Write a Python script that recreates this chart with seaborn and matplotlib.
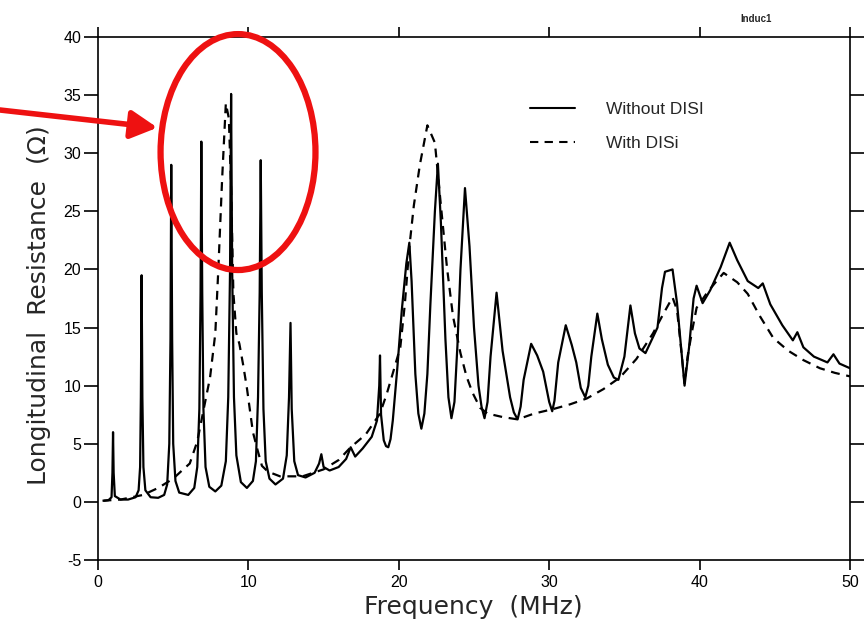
import matplotlib
matplotlib.use("Agg")
import matplotlib.pyplot as plt
import numpy as np
import pandas as pd
import seaborn as sns
from matplotlib.patches import Ellipse
from matplotlib.lines import Line2D

# ---------------- data ----------------
freq_without = [0.4, 0.7, 0.9, 0.96, 1.0, 1.04, 1.12, 1.5, 2.0, 2.5, 2.7, 2.8, 2.85, 2.9, 2.95, 3.02, 3.15,
                3.5, 4.0, 4.4, 4.6, 4.74, 4.82, 4.87, 4.93, 5.0, 5.15, 5.4, 6.0, 6.4, 6.6, 6.74, 6.82, 6.87,
                6.93, 7.01, 7.15, 7.4, 7.8, 8.2, 8.5, 8.66, 8.78, 8.85, 8.92, 9.04, 9.2, 9.5, 9.9, 10.3, 10.5,
                10.64, 10.75, 10.82, 10.89, 11.0, 11.15, 11.4, 11.8, 12.3, 12.55, 12.7, 12.8, 12.88, 13.05,
                13.3, 13.8, 14.4, 14.7, 14.85, 15.0, 15.4, 16.0, 16.5, 16.8, 17.1, 17.6, 18.2, 18.55, 18.7,
                18.75, 18.82, 19.0, 19.15, 19.3, 19.45, 19.6, 19.9, 20.2, 20.5, 20.7, 20.85, 21.1, 21.3, 21.5,
                21.7, 21.9, 22.1, 22.4, 22.6, 22.8, 23.1, 23.3, 23.5, 23.7, 23.9, 24.1, 24.4, 24.7, 25.0, 25.3,
                25.5, 25.7, 25.9, 26.1, 26.5, 26.9, 27.4, 27.65, 27.9, 28.1, 28.3, 28.8, 29.2, 29.6, 30.0,
                30.2, 30.35, 30.6, 31.1, 31.5, 31.8, 32.1, 32.4, 32.6, 32.8, 33.2, 33.5, 33.9, 34.3, 34.6,
                35.0, 35.4, 35.7, 36.0, 36.4, 36.8, 37.2, 37.5, 37.7, 38.2, 38.5, 38.8, 39.0, 39.3, 39.6,
                39.8, 40.2, 40.7, 41.4, 42.0, 42.5, 43.2, 43.9, 44.2, 44.7, 45.5, 46.2, 46.5, 46.9, 47.6,
                48.5, 48.9, 49.3, 50.0]
res_without = [0.1, 0.15, 0.4, 2.5, 6.0, 2.5, 0.5, 0.2, 0.2, 0.4, 1.0, 3.0, 9.0, 19.5, 9.0, 3.0, 1.0,
               0.4, 0.35, 0.6, 1.5, 5.0, 14.0, 29.0, 14.0, 5.0, 1.8, 0.8, 0.6, 1.2, 3.0, 8.0, 18.0, 31.0,
               18.0, 8.0, 3.0, 1.3, 0.9, 1.4, 3.5, 9.0, 20.0, 35.1, 20.0, 9.0, 4.0, 1.7, 1.2, 1.8, 3.5,
               9.0, 18.0, 29.4, 18.0, 8.0, 3.5, 2.0, 1.5, 2.0, 4.0, 9.0, 15.4, 8.0, 3.5,
               2.3, 2.1, 2.5, 3.3, 4.1, 3.0, 2.7, 3.0, 3.7, 4.7, 3.9, 4.6, 5.6, 7.0, 10.0,
               12.6, 7.5, 5.3, 4.8, 4.7, 5.4, 7.0, 11.5, 16.5, 20.5, 22.3, 19.0, 11.0, 7.6, 6.3,
               7.6, 11.0, 17.0, 25.0, 29.1, 24.0, 14.0, 9.0, 7.2, 8.6, 13.5, 20.0, 27.0, 22.0, 15.0, 10.0,
               8.2, 7.2, 8.6, 12.5, 18.0, 13.0, 9.0, 7.7, 7.1, 8.2, 10.5, 13.6, 12.6, 11.2, 8.6,
               7.8, 8.7, 12.0, 15.2, 13.5, 12.0, 9.8, 9.0, 10.0, 12.5, 16.2, 14.0, 11.8, 10.7, 10.5,
               12.5, 16.9, 14.5, 13.2, 12.8, 13.9, 15.0, 18.4, 19.8, 20.0, 17.1, 12.8, 10.0, 13.3, 17.5,
               18.6, 17.1, 18.2, 20.2, 22.3, 20.8, 19.0, 18.4, 18.8, 17.0, 15.2, 13.9, 14.6, 13.3, 12.5,
               12.0, 12.7, 11.9, 11.5]

freq_with = [0.3, 1.5, 3.0, 4.0, 5.0, 5.5, 6.1, 6.6, 7.0, 7.45, 7.8, 8.0, 8.25, 8.5, 8.7, 8.85, 9.0, 9.2,
             9.4, 9.65, 9.9, 10.3, 10.6, 10.9, 11.3, 12.1, 13.6, 15.0, 16.0, 16.8, 17.8, 18.75, 19.2, 19.7,
             20.1, 20.4, 20.7, 21.0, 21.4, 21.9, 22.4, 22.8, 23.2, 23.6, 24.1, 24.5, 24.9, 25.4, 25.9,
             26.9, 27.9, 29.0, 30.3, 31.4, 32.5, 33.6, 34.7, 35.8, 36.9, 37.6, 38.2, 38.5, 38.8, 39.0,
             39.2, 39.5, 39.8, 40.5, 41.0, 41.6, 42.5, 43.2, 44.0, 44.9, 45.9, 46.9, 48.0, 49.0, 50.0]
res_with = [0.1, 0.2, 0.6, 1.2, 2.0, 2.6, 3.3, 5.2, 7.8, 10.7, 14.5, 20.0, 27.7, 34.3, 33.0, 27.0, 18.0, 14.5,
            13.6, 11.8, 9.8, 6.0, 4.5, 3.1, 2.6, 2.2, 2.2, 2.8, 3.6, 4.7, 5.8, 7.6, 9.3, 11.5,
            13.3, 17.0, 21.9, 25.5, 29.0, 32.4, 30.9, 25.5, 20.2, 16.0, 12.8, 10.8, 9.4, 8.1, 7.6,
            7.3, 7.1, 7.6, 8.0, 8.4, 8.9, 9.7, 10.7, 12.3, 14.5, 16.2, 17.6, 16.5, 12.8, 10.2,
            12.5, 14.7, 16.7, 18.0, 18.8, 19.7, 18.9, 17.9, 16.0, 14.1, 13.0, 12.2, 11.5, 11.1, 10.8]

series_labels = ["Without DISI", "With DISi"]
x_ticks = [0, 10, 20, 30, 40, 50]
y_ticks = [-5, 0, 5, 10, 15, 20, 25, 30, 35, 40]

# ---------------- style ----------------
sns.set_style("ticks")
plt.rcParams['font.family'] = ['Liberation Sans', 'DejaVu Sans']
plt.rcParams['axes.unicode_minus'] = False

df = pd.concat([
    pd.DataFrame({"freq": freq_without, "res": res_without, "series": series_labels[0]}),
    pd.DataFrame({"freq": freq_with, "res": res_with, "series": series_labels[1]}),
], ignore_index=True)

fig = plt.figure(figsize=(8.65, 6.21), dpi=100)
ax = fig.add_axes([98 / 865, 1 - 560 / 621, 752 / 865, 523 / 621])

sns.lineplot(data=df, x="freq", y="res", style="series",
             dashes={series_labels[0]: "", series_labels[1]: (4, 3)},
             color="black", lw=1.6, estimator=None, sort=False, legend=False, ax=ax)

ax.set_xlim(0, 50)
ax.set_ylim(-5, 40)
ax.set_xticks(x_ticks)
ax.set_yticks(y_ticks)
ax.tick_params(axis="both", direction="out", colors="black", labelsize=11.5, width=1.2)
ax.tick_params(axis="y", length=10, pad=2, right=True)
ax.tick_params(axis="x", length=7, pad=4, top=True)
for s in ax.spines.values():
    s.set_visible(True)
    s.set_linewidth(1.2)
    s.set_color("black")

label_font = dict(family=["DejaVu Sans"], size=18)
ax.set_xlabel("Frequency  (MHz)", fontdict=label_font)
ax.xaxis.set_label_coords((473 - 98) / 752, (560 - 595) / 523)
ax.set_ylabel("Longitudinal  Resistance  (Ω)", fontdict=label_font)
ax.yaxis.set_label_coords((51 - 98) / 752, 0.488)

handles = [Line2D([], [], color="black", lw=1.5),
           Line2D([], [], color="black", lw=1.5, dashes=(4, 3))]
ax.legend(handles, series_labels, loc="center left",
          bbox_to_anchor=((530 - 98) / 752, (560 - 126.5) / 523),
          frameon=False, fontsize=12.5, handlelength=2.6, handletextpad=1.8,
          labelspacing=1.1, borderpad=0, borderaxespad=0)

# red annotation: ellipse + arrow
ell = Ellipse((9.31, 30.1), width=10.3, height=20.3, fill=False,
              edgecolor="#ee1111", lw=4.5, clip_on=False, zorder=5)
ax.add_patch(ell)
ax.annotate("", xy=(3.95, 32.2), xycoords="data",
            xytext=(0, 1 - 110 / 621), textcoords="figure fraction",
            arrowprops=dict(arrowstyle="-|>,head_length=1.6,head_width=0.85",
                            color="#ee1111", lw=4, shrinkA=0, shrinkB=0),
            annotation_clip=False, zorder=6)

fig.text(740 / 865, 1 - 22 / 621, "Induc1", fontsize=7, fontweight="bold")

fig.savefig("out.png", dpi=100)
